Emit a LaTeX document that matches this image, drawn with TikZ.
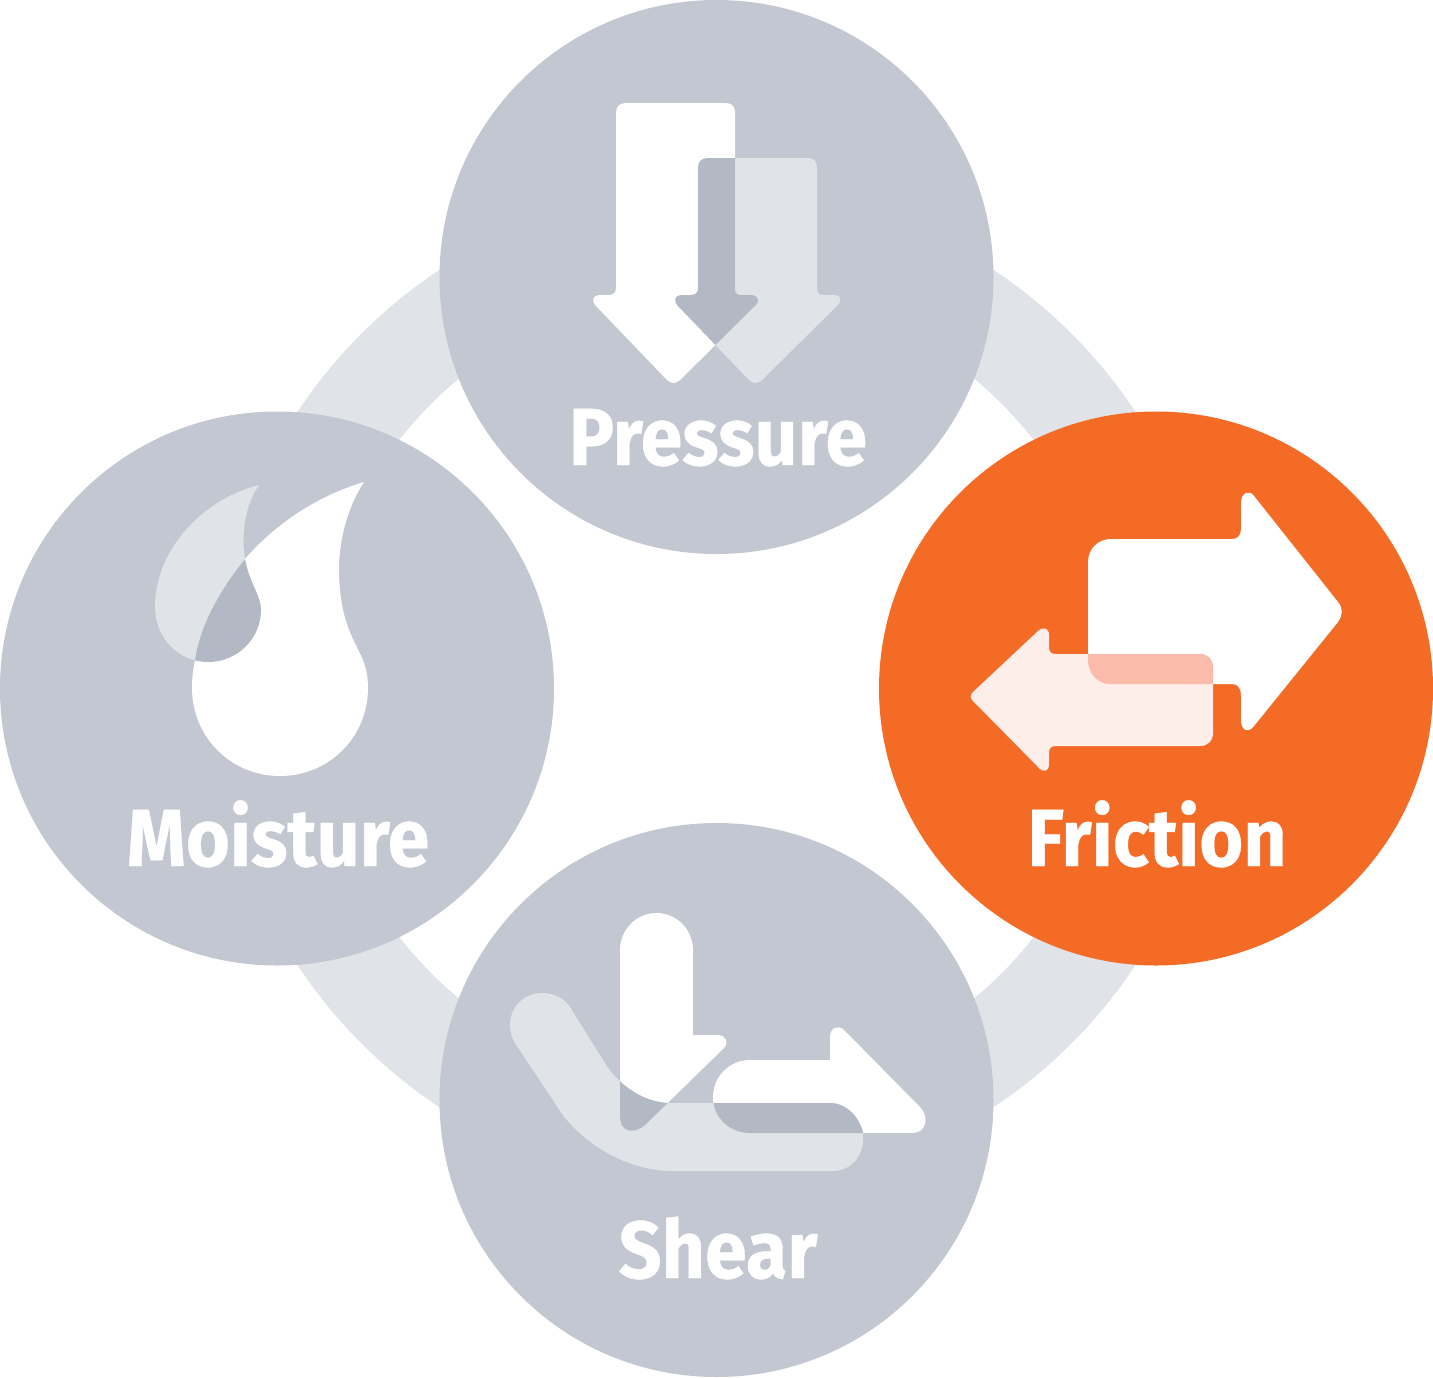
\documentclass[tikz,border=0pt]{standalone}
\usepackage{fontspec}
\newfontfamily\labelfont[FakeStretch=0.93,FakeBold=0.5]{Fira Sans Bold}
\definecolor{disc}{HTML}{C2C7D1}
\definecolor{ringc}{HTML}{E0E3E8}
\definecolor{overlapc}{HTML}{B2B9C4}
\definecolor{hot}{HTML}{F46B25}
\definecolor{hotlight}{HTML}{FEEEEA}
\definecolor{hotmid}{HTML}{FBBBAA}
\tikzset{
  discnode/.style={circle,fill=disc,draw=none,inner sep=0pt,minimum size=554pt},
  hotnode/.style={discnode,fill=hot},
  caption/.style={text=white,anchor=base,inner sep=0pt,font=\labelfont\fontsize{81}{81}\selectfont},
}
% Pressure
\def\pressA{(616,113) .. controls (616,106) and (620,103) .. (626,103) -- (725,103) .. controls (732,103) and (735,106) .. (735,113) -- (735,288) .. controls (735,293) and (737,295) .. (741,295) -- (752,295) .. controls (757,295) and (760,300) .. (757,304) -- (680,380) .. controls (676,384) and (671,384) .. (667,380) -- (596,306) .. controls (591,301) and (593,295) .. (599,295) -- (609,295) .. controls (613,295) and (616,293) .. (616,288) -- cycle}
\def\pressB{(698,168) .. controls (698,161) and (702,158) .. (708,158) -- (807,158) .. controls (814,158) and (817,161) .. (817,168) -- (817,288) .. controls (817,293) and (819,295) .. (823,295) -- (835,295) .. controls (840,295) and (842,300) .. (839,304) -- (762,380) .. controls (758,384) and (753,384) .. (749,380) -- (678,306) .. controls (673,301) and (675,295) .. (681,295) -- (691,295) .. controls (695,295) and (698,293) .. (698,288) -- cycle}
% Moisture
\def\dropA{(364,482) .. controls (320,495) and (277,522) .. (245,559) .. controls (220,590) and (200,625) .. (195,660) .. controls (193,670) and (192,678) .. (192,688) .. controls (192,737) and (231,776) .. (280,776) .. controls (329,776) and (368,737) .. (368,688) .. controls (368,665) and (360,655) .. (356,645) .. controls (345,625) and (339,600) .. (339,570) .. controls (339,535) and (350,503) .. (364,482) -- cycle}
\def\dropB{(259,485) .. controls (200,500) and (155,552) .. (155,607) .. controls (155,637) and (178,662) .. (208,662) .. controls (238,662) and (261,638) .. (261,610) .. controls (261,595) and (250,585) .. (245,559) .. controls (241,535) and (245,505) .. (259,485) -- cycle}
% Friction
\def\fricA{(1088,562) .. controls (1088,549) and (1098,539) .. (1111,539) -- (1232,539) .. controls (1238,539) and (1241,535) .. (1241,529) -- (1241,503) .. controls (1241,493) and (1249,489) .. (1254,496) -- (1338,602) .. controls (1343,608) and (1343,615) .. (1338,622) -- (1254,726) .. controls (1248,734) and (1241,730) .. (1241,720) -- (1241,696) .. controls (1241,688) and (1238,684) .. (1232,684) -- (1110,684) .. controls (1098,684) and (1088,674) .. (1088,660) -- cycle}
\def\fricB{(1213,668) .. controls (1213,659) and (1208,654) .. (1200,654) -- (1056,654) .. controls (1051,654) and (1049,652) .. (1049,647) -- (1049,635) .. controls (1049,628) and (1043,626) .. (1038,631) -- (973,692) .. controls (970,695) and (970,698) .. (973,701) -- (1038,767) .. controls (1043,773) and (1049,772) .. (1049,764) -- (1049,753) .. controls (1049,748) and (1051,746) .. (1056,746) -- (1200,746) .. controls (1208,746) and (1213,741) .. (1213,733) -- cycle}
% Shear
\def\shearA{(620,950) .. controls (620,930) and (636,913) .. (656.5,913) .. controls (677,913) and (693,930) .. (693,950) -- (693,1035) -- (718,1035) .. controls (726,1035) and (729,1043) .. (724,1048) -- (645,1125) .. controls (636,1133) and (620,1135) .. (620,1115) -- cycle}
\def\shearB{(713,1097) .. controls (713,1077) and (729,1060) .. (750,1060) -- (830,1060) -- (830,1037) .. controls (830,1028) and (838,1024) .. (844,1030) -- (920,1107) .. controls (930,1118) and (926,1133) .. (912,1133) -- (750,1133) .. controls (729,1133) and (713,1117) .. (713,1097) -- cycle}
\def\shearC{(515,1043) .. controls (512,1038) and (510,1033) .. (510,1025) .. controls (510,1007) and (524,993) .. (542,993) .. controls (554,993) and (564,998) .. (570,1007) -- (608,1068) .. controls (625,1090) and (645,1101) .. (667,1103) -- (830,1103) .. controls (847,1103) and (860,1118) .. (863,1133) -- (863,1140) .. controls (863,1157) and (850,1171) .. (833,1171) -- (672,1171) .. controls (625,1171) and (575,1140) .. (553,1100) -- cycle}
\begin{document}
\begin{tikzpicture}[x=1pt,y=-1pt]
\useasboundingbox (0,0) rectangle (1433,1377);
% ring
\fill[ringc,even odd rule] (716.5,688.5) circle[radius=502pt] (716.5,688.5) circle[radius=403pt];
% discs
\node[discnode] (pressure) at (716.5,277) {};
\node[discnode] (moisture) at (277,688.5) {};
\node[hotnode]  (friction) at (1156,688.5) {};
\node[discnode] (shear)    at (716.5,1100) {};
% pressure icon
\fill[ringc] \pressB;
\fill[white] \pressA;
\begin{scope}\clip \pressA; \fill[overlapc] \pressB; \end{scope}
% moisture icon
\fill[ringc] \dropB;
\fill[white] \dropA;
\begin{scope}\clip \dropA; \fill[overlapc] \dropB; \end{scope}
% friction icon
\fill[white] \fricA;
\fill[hotlight] \fricB;
\begin{scope}\clip \fricA; \fill[hotmid] \fricB; \end{scope}
% shear icon
\fill[white] \shearA;
\fill[white] \shearB;
\fill[ringc] \shearC;
\begin{scope}\clip \shearC; \fill[overlapc] \shearA; \fill[overlapc] \shearB; \end{scope}
% labels
\node[caption] (tpressure) at (718,465) {Pressure};
\node[caption] (tmoisture) at (278,866) {Moisture};
\node[caption] (tfriction) at (1157,866) {Friction};
\node[caption] (tshear)    at (718,1278) {Shear};
\end{tikzpicture}
\end{document}
